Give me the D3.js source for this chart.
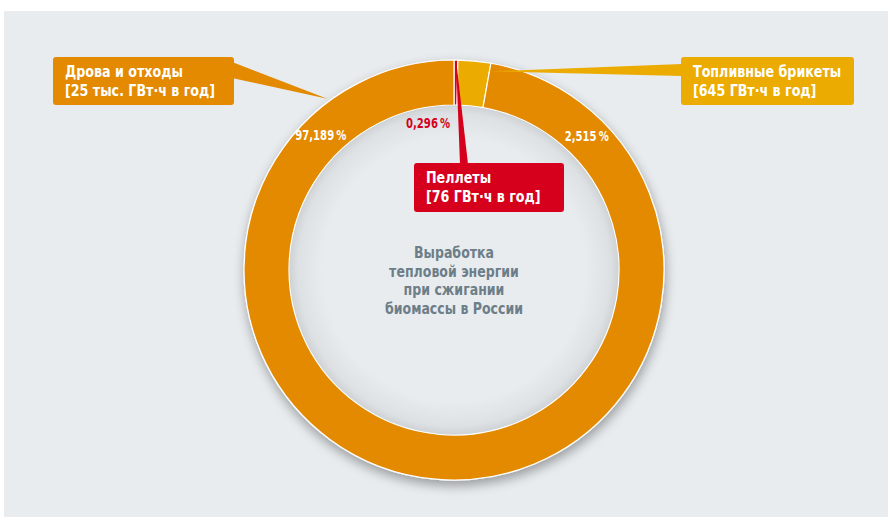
<!DOCTYPE html>
<html>
<head>
<meta charset="utf-8">
<script src="https://cdn.jsdelivr.net/npm/d3@7"></script>
<style>
  html, body { margin: 0; padding: 0; background: #ffffff; }
  svg { display: block; }
  text { font-family: "DejaVu Sans Condensed", "DejaVu Sans", sans-serif; font-weight: bold; }
</style>
</head>
<body>
<svg id="chart" width="888" height="517"></svg>
<script>
// Heat generated from biomass combustion in Russia, share by fuel type
const categories = ["Пеллеты", "Топливные брикеты", "Дрова и отходы"];
const shares = [0.296, 2.515, 97.189];            // percent of total
const energyLabels = ["[76 ГВт·ч в год]", "[645 ГВт·ч в год]", "[25 тыс. ГВт·ч в год]"];
const centerTitle = ["Выработка", "тепловой энергии", "при сжигании", "биомассы в России"];
const colors = ["#d6001c", "#ebab00", "#e38a00"];

const width = 888, height = 517;
const cx = 454, cy = 270;
const outerR = 210, innerR = 165;

const svg = d3.select("#chart");

// squeeze a text run horizontally for a condensed look
function condense(sel, k) {
  sel.each(function () {
    const w = this.getComputedTextLength();
    d3.select(this).attr("textLength", w * k).attr("lengthAdjust", "spacingAndGlyphs");
  });
}

// panel background
svg.append("rect").attr("x", 4).attr("y", 11).attr("width", width - 4).attr("height", height - 11)
  .attr("fill", "#e8ecef");

const defs = svg.append("defs");
const shadow = defs.append("filter").attr("id", "ringShadow")
  .attr("x", "-20%").attr("y", "-20%").attr("width", "140%").attr("height", "140%");
shadow.append("feGaussianBlur").attr("in", "SourceAlpha").attr("stdDeviation", 6).attr("result", "b");
shadow.append("feOffset").attr("in", "b").attr("dx", 1).attr("dy", 5).attr("result", "o");
shadow.append("feComponentTransfer").attr("in", "o").attr("result", "s")
  .append("feFuncA").attr("type", "linear").attr("slope", 0.35);
const merge = shadow.append("feMerge");
merge.append("feMergeNode").attr("in", "s");
merge.append("feMergeNode").attr("in", "SourceGraphic");

const holeGrad = defs.append("radialGradient").attr("id", "holeGrad")
  .attr("cx", "50%").attr("cy", "50%").attr("r", "50%");
holeGrad.append("stop").attr("offset", "80%").attr("stop-color", "#e8ecef");
holeGrad.append("stop").attr("offset", "95%").attr("stop-color", "#dde1e4");
holeGrad.append("stop").attr("offset", "100%").attr("stop-color", "#cfd3d6");

const g = svg.append("g").attr("transform", `translate(${cx},${cy})`);

const pie = d3.pie().sort(null).value(d => d)(shares);
const arc = d3.arc().innerRadius(innerR).outerRadius(outerR);

// ring with soft shadow
const ring = g.append("g").attr("filter", "url(#ringShadow)");
ring.selectAll("path").data(pie).join("path")
  .attr("d", arc)
  .attr("fill", (d, i) => colors[i])
  .attr("stroke", "#ffffff")
  .attr("stroke-width", 1.2);

// shaded hole
g.append("circle").attr("r", innerR - 0.6).attr("fill", "url(#holeGrad)");

// centre caption
g.append("text").attr("text-anchor", "middle").attr("fill", "#6e7e88").attr("font-size", 15.5)
  .selectAll("tspan").data(centerTitle).join("tspan")
  .attr("x", 0).attr("y", (d, i) => -12 + i * 18.7).text(d => d)
  .call(condense, 0.9);

// percentage labels
const fmt = d3.formatLocale({ decimal: ",", thousands: " ", grouping: [3], currency: ["", ""] }).format(".3f");
const pct = v => fmt(v) + "\u2009%";
const midR = (innerR + outerR) / 2;
const labelAngle = 44 * Math.PI / 180;
const [px1, py1] = d3.pointRadial(labelAngle, midR);
g.append("text").attr("x", px1 + 2.5).attr("y", py1 + 6).attr("text-anchor", "middle")
  .attr("fill", "#ffffff").attr("font-size", 14).text(pct(shares[1])).call(condense, 0.8);
const [px2, py2] = d3.pointRadial(-labelAngle, midR);
g.append("text").attr("x", px2 - 3).attr("y", py2 + 5).attr("text-anchor", "middle")
  .attr("fill", "#ffffff").attr("font-size", 14).text(pct(shares[2])).call(condense, 0.8);
g.append("text").attr("x", -4).attr("y", -142).attr("text-anchor", "end")
  .attr("fill", colors[0]).attr("font-size", 14).text(pct(shares[0])).call(condense, 0.8);

// callout boxes with wedge pointers
function callout(i, box, apexAngle, apexR, base) {
  const [ax, ay] = d3.pointRadial(apexAngle * Math.PI / 180, apexR);
  const apex = [cx + ax, cy + ay];
  svg.append("path")
    .attr("d", d3.line()([apex, base[0], base[1]]) + "Z")
    .attr("fill", colors[i]);
  svg.append("rect").attr("x", box.x).attr("y", box.y).attr("width", box.w).attr("height", box.h)
    .attr("rx", 3).attr("fill", colors[i]);
  const t = svg.append("text").attr("fill", "#ffffff").attr("font-size", 16);
  t.append("tspan").attr("x", box.x + 12).attr("y", box.y + 20).text(categories[i]);
  t.append("tspan").attr("x", box.x + 12).attr("y", box.y + 39).text(energyLabels[i]);
  t.selectAll("tspan").call(condense, 0.88);
}

const a0 = (pie[0].startAngle + pie[0].endAngle) / 2 * 180 / Math.PI;
callout(0, { x: 414, y: 163, w: 150, h: 49 }, a0, outerR + 1, [[460, 164], [468, 164]]);
callout(1, { x: 681, y: 57, w: 173, h: 48 }, 10.4, 202, [[682, 64], [682, 76]]);
callout(2, { x: 53, y: 57, w: 181, h: 48 }, -36.5, outerR + 3, [[232, 62], [232, 78]]);
</script>
</body>
</html>
